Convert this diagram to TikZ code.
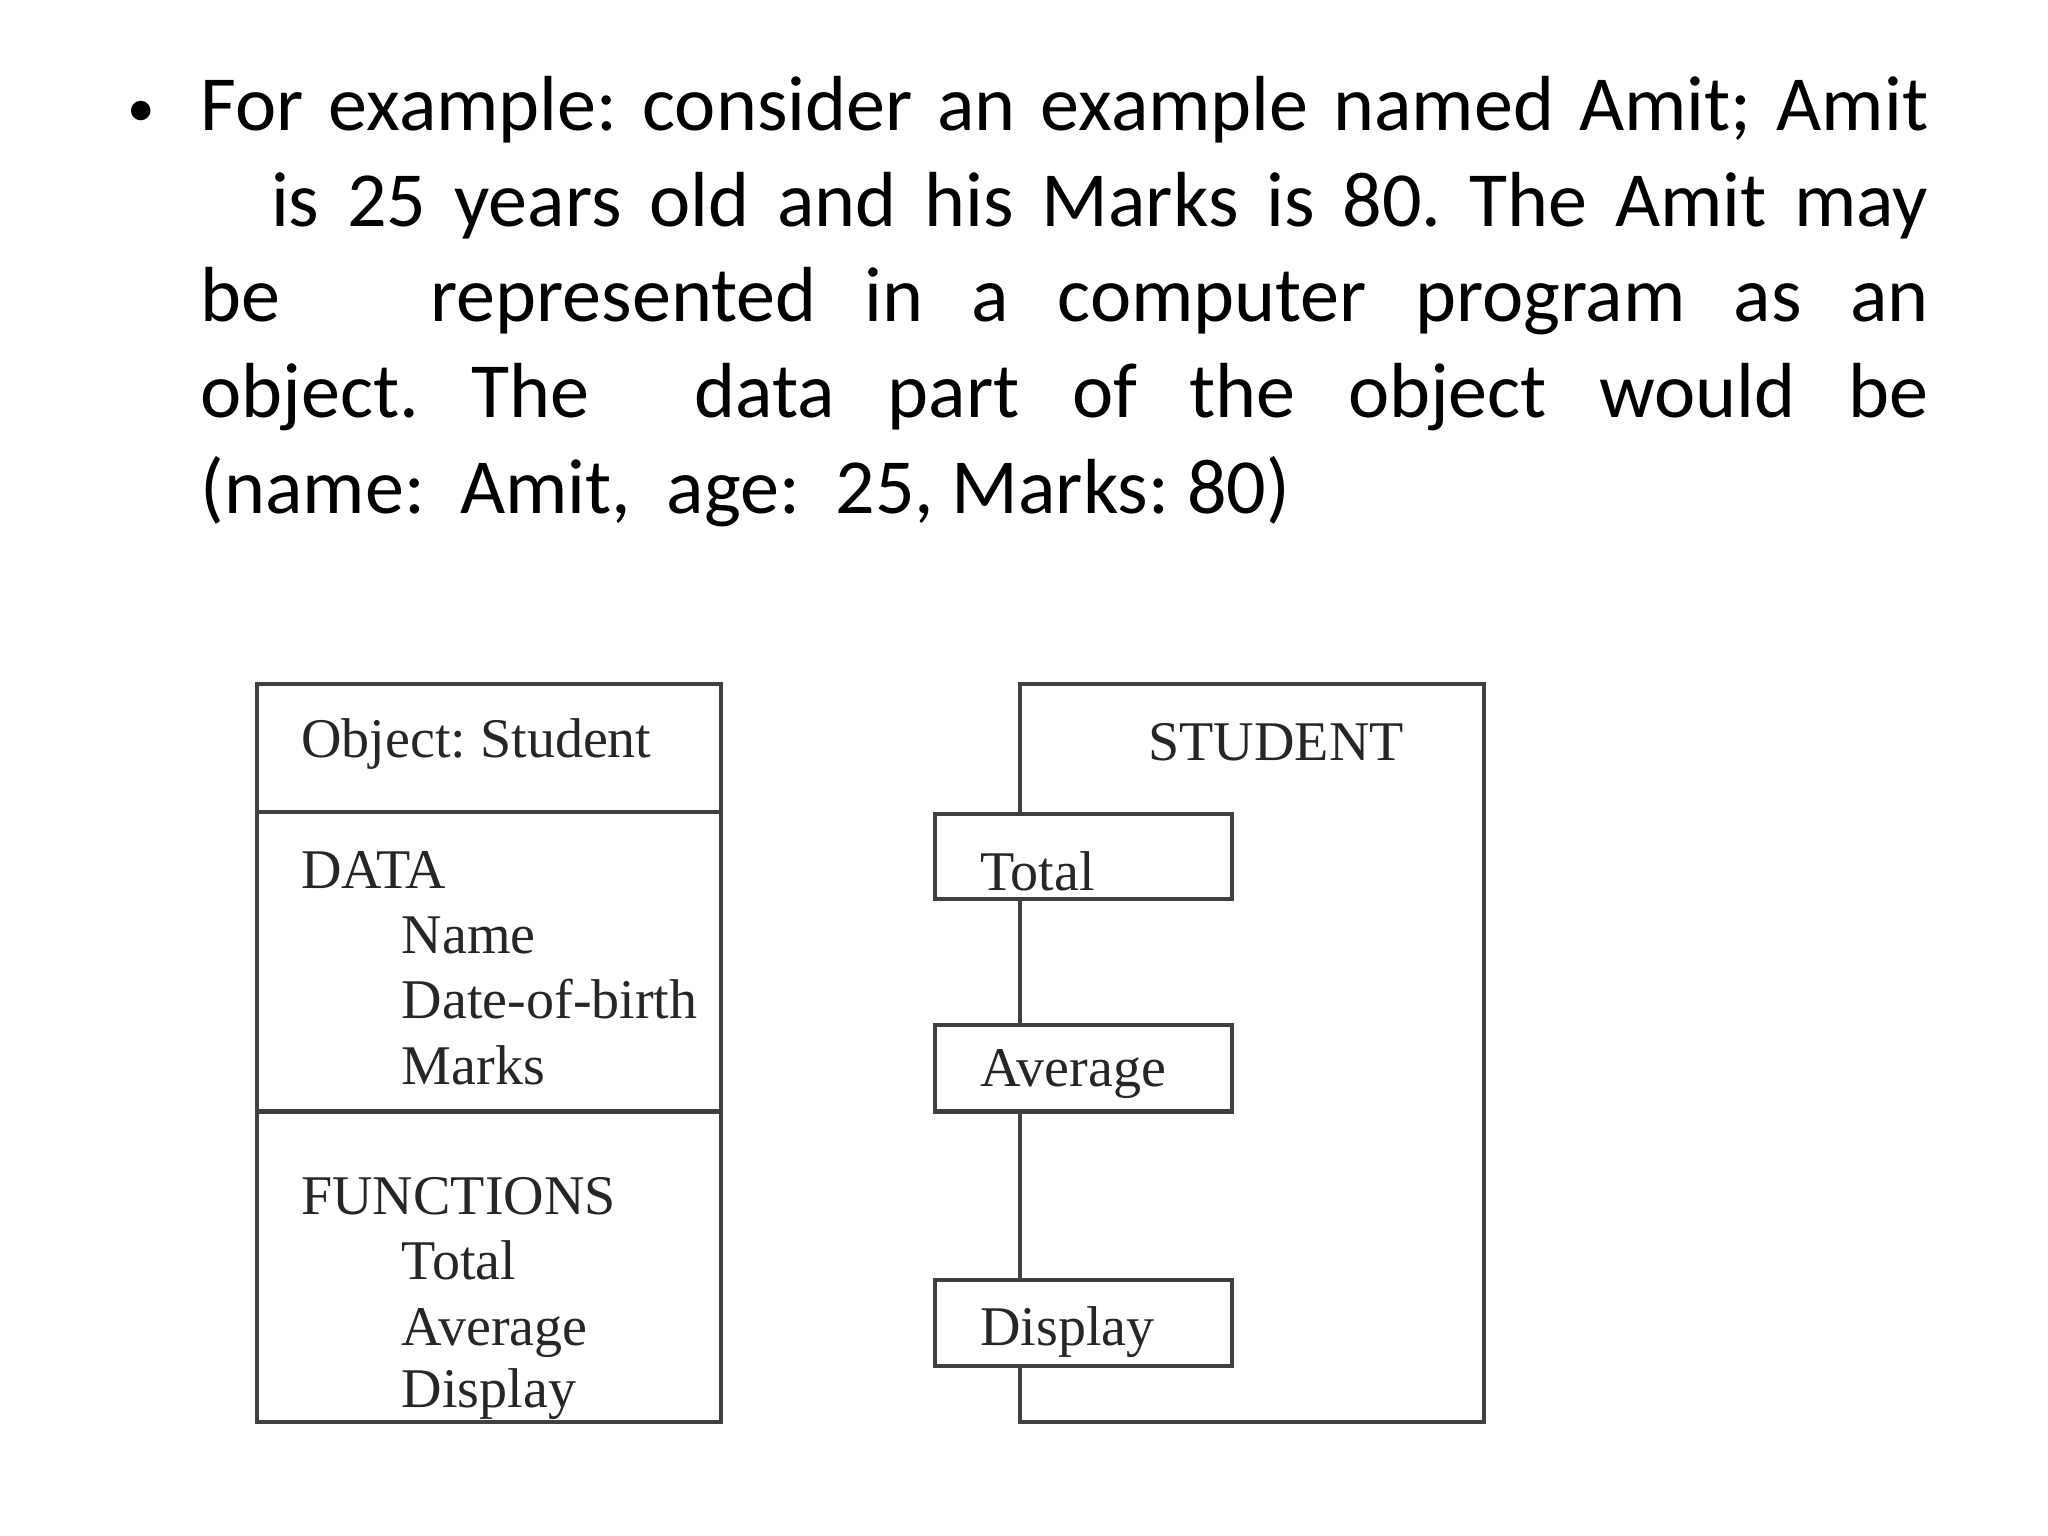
\documentclass[tikz,border=0pt]{standalone}
\usepackage{fontspec}
\setmainfont{Carlito}
\newfontfamily\tnr{Liberation Serif}
\frenchspacing
\begin{document}
\begin{tikzpicture}[x=0.01cm,y=-0.01cm,
  bx/.style={draw=black!75,line width=0.9pt},
  lbl/.style={anchor=base west,inner sep=0,font=\tnr\fontsize{12.2}{14}\selectfont,text=black!85},
  sb/.style={bx,fill=white}]
\useasboundingbox (0,0) rectangle (1568,1176);
\node[anchor=base west,inner sep=0,font=\fontsize{12}{14}\selectfont] (bul) at (97,97) {•};
\node[anchor=north west,inner sep=0,text width=13.22cm,align=justify,
  font=\fontsize{17}{20.8}\selectfont] (txt) at (153,58)
{For example: consider an example named Amit; Amit\linebreak
\hspace*{0.9em}is 25 years old and his Marks is 80. The Amit may\linebreak
be\hspace{1.3em} represented in a computer program as an\linebreak
object. The\ \ data part of the object would be\linebreak
(name:\ \ Amit,\ \ age:\ \ 25, Marks: 80)};
% left box
\draw[bx] (197,524) rectangle (552,1089);
\draw[bx] (197,622) coordinate (d1) -- (552,622) coordinate (d2);
\draw[bx] (197,851) coordinate (d3) -- (552,851) coordinate (d4);
\node[lbl] (os) at (230,580) {Object: Student};
\node[lbl] (da) at (230,680) {DATA};
\node[lbl] (nm) at (307,730) {Name};
\node[lbl] (db) at (307,780) {Date-of-birth};
\node[lbl] (mk) at (307,830) {Marks};
\node[lbl] (fn) at (230,930) {FUNCTIONS};
\node[lbl] (ft) at (307,980) {Total};
\node[lbl] (fa) at (307,1030) {Average};
\node[lbl] (fd) at (307,1078) {Display};
% right box
\draw[bx] (781,524) rectangle (1136,1089);
\node[lbl,anchor=base] (st) at (977,582) {STUDENT};
\draw[sb] (716,623) rectangle (943,688);
\node[lbl] (t) at (750,682) {Total};
\draw[sb] (716,785) rectangle (943,851);
\node[lbl] (a) at (750,832) {Average};
\draw[sb] (716,980) rectangle (943,1046);
\node[lbl] (d) at (750,1030) {Display};
\end{tikzpicture}
\end{document}
